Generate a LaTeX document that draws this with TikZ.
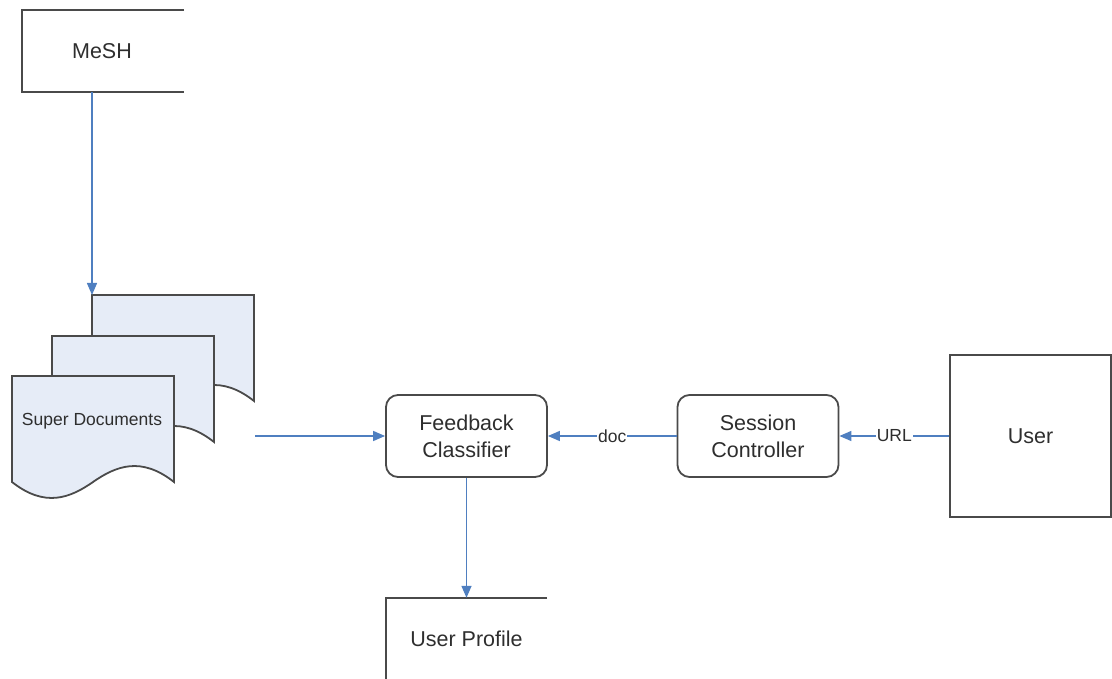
\documentclass[tikz,border=0pt]{standalone}
\usepackage{fontspec}
\setmainfont{Liberation Sans}
\usetikzlibrary{arrows.meta}
\definecolor{edge}{HTML}{4A4A4A}
\definecolor{flow}{HTML}{4F7FC0}
\definecolor{paper}{HTML}{E6ECF7}
\definecolor{ink}{HTML}{2E2E2E}

\begin{document}
\begin{tikzpicture}[x=1pt,y=-1pt,
  every node/.style={text=ink},
  outline/.style={draw=edge,line width=1.8pt},
  mainfont/.style={font=\fontsize{21.5}{27}\selectfont},
  proc/.style={outline,mainfont,rounded corners=12pt,minimum width=161pt,
    minimum height=82pt,align=center,inner sep=0pt},
  plainbox/.style={mainfont,minimum width=161pt,minimum height=82pt,inner sep=0pt},
  flowline/.style={draw=flow,line width=1.4pt,-{Triangle[length=12pt,width=10pt]}},
  tag/.style={fill=white,inner sep=1pt,font=\fontsize{17.5}{20}\selectfont},
  docsheet/.pic={
    \path[outline,fill=paper] (0,0) -- (0,106)
      .. controls (33,132) and (58,122) .. (81,106)
      .. controls (104,90) and (129,80) .. (162,106) -- (162,0) -- cycle;
  },
]
\useasboundingbox (0,0) rectangle (1112,679);

% MeSH data store (open on the right)
\node[plainbox] (mesh) at (102,51) {MeSH};
\draw[outline] (184,10) -- (22,10) -- (22,92) -- (184,92);

% Super Documents stack
\pic at (92,295) {docsheet};
\pic at (52,336) {docsheet};
\pic at (12,376) {docsheet};
\node[font=\fontsize{17.5}{20}\selectfont] (docs) at (92,421) {Super Documents};
\coordinate (docin) at (92,295);
\coordinate (docout) at (255,436);

% Processes
\node[proc] (fc) at (466.5,436) {Feedback\\Classifier};
\node[proc] (sc) at (758,436) {Session\\Controller};
\node[outline,mainfont,minimum width=161pt,minimum height=162pt,inner sep=0pt] (user) at (1030.5,436) {User};

% User Profile data store (open on the right)
\node[plainbox] (up) at (466.5,639) {User Profile};
\draw[outline] (up.north east) -- (up.north west) -- (up.south west);

% Connectors
\draw[flowline] (mesh.south -| docin) -- (docin);
\draw[flowline] (docout) -- (fc.west);
\draw[flowline] (sc.west) -- node[tag] {doc} (fc.east);
\draw[flowline] (user.west) -- node[tag] {URL} (sc.east);
\draw[flowline] (fc.south) -- (up.north);
\end{tikzpicture}
\end{document}
